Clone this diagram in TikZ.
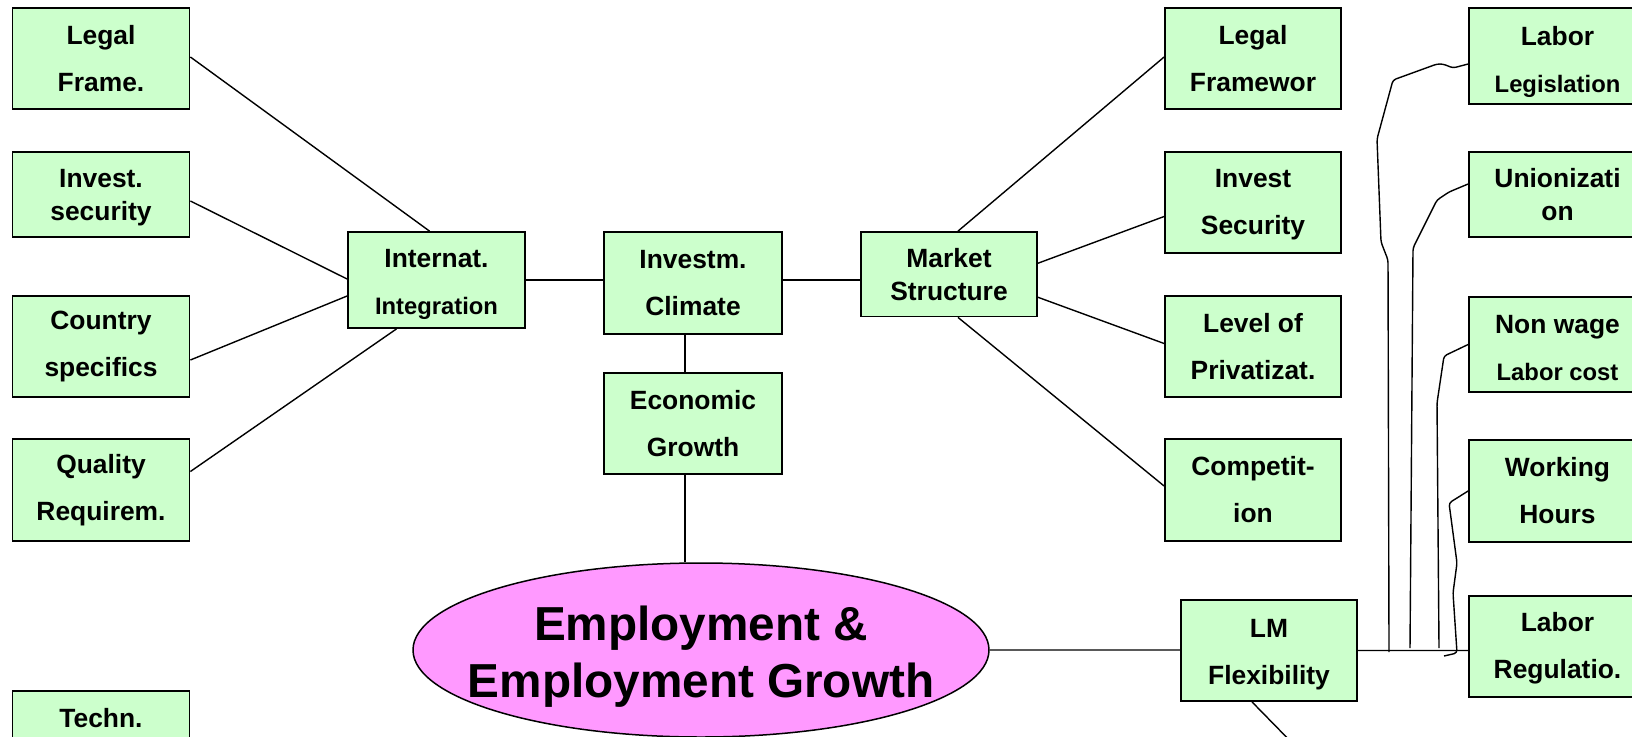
\documentclass[tikz,border=0pt]{standalone}
\usepackage{fontspec}
\setmainfont{Liberation Sans}
\usetikzlibrary{positioning,shapes}
\definecolor{boxgreen}{HTML}{CCFFCC}
\definecolor{empink}{HTML}{FF99FF}
\newcommand{\smtx}[1]{{\fontsize{23.8}{46}\selectfont #1}}
\newcommand{\lowr}[1]{\rule{0pt}{#1pt}}

\begin{document}
\begin{tikzpicture}[%
        x=1pt, y=-1pt,
        every node/.style={inner sep=0pt, align=center, font=\bfseries\fontsize{26.4}{47}\selectfont},
        box/.style={rectangle, draw, line width=1.8pt, fill=boxgreen, minimum width=177, minimum height=101},
        tight/.style={font=\bfseries\fontsize{26.4}{33}\selectfont},
        link/.style={line width=1.4pt},
        node distance=37pt
      ]
      \useasboundingbox (0,0) rectangle (1632,736);
      \clip (0,0) rectangle (1632,736);

      \node [box] (lframe) at (101,58.5) {Legal\\Frame.};
      \node [box, tight, minimum height=85] (isec) at (101,194.5) {\lowr{25}Invest.\\security};
      \node [box] (cspec) at (101,346.5) {Country\\specifics};
      \node [box, minimum height=102] (qual) at (101,490) {Quality\\Requirem.};
      \node [box] (techn) at (101,741.5) {Techn.\\\mbox{}};

      \node [box, minimum height=96] (intl) at (436.5,280) {\lowr{27}Internat.\\\smtx{Integration}};
      \node [box, minimum width=178, minimum height=102] (inv) at (693,283) {Investm.\\Climate};
      \node [box, minimum width=178, below=of inv] (econ) {Economic\\Growth};
      \node [box, tight, minimum width=176, minimum height=84.5] (mstr) at (949,274.25) {Market\\Structure};

      \node [box, minimum width=176] (lfw) at (1253,58.5) {Legal\\Framewor};
      \node [box, minimum width=176] (isec2) at (1253,202.5) {\lowr{23}Invest\\Security};
      \node [box, minimum width=176] (priv) at (1253,346.5) {Level of\\Privatizat.};
      \node [box, minimum width=176, minimum height=102] (comp) at (1253,490) {Competit-\\ion};

      \node [ellipse, draw, line width=1.5pt, fill=empink, minimum width=576, minimum height=174,
             inner xsep=-30pt, font=\bfseries\fontsize{47.7}{57}\selectfont] (emp) at (701,650)
             {\lowr{48}Employment \&\\Employment Growth};
      \node [box, minimum width=176] (lm) at (1269,650.5) {\lowr{27}LM\\Flexibility};

      \node [box, minimum height=96] (llegis) at (1557.5,56) {\lowr{31}Labor\\\smtx{Legislation}};
      \node [box, tight, minimum height=85] (union) at (1557.5,194.5) {Unionizati\\on};
      \node [box, minimum height=95] (nonw) at (1557.5,344.5) {\lowr{25}Non wage\\\smtx{Labor cost}};
      \node [box, minimum height=102] (work) at (1557.5,491) {Working\\Hours};
      \node [box] (lreg) at (1557.5,646.5) {\lowr{23}Labor\\Regulatio.};

      \draw [link] ([yshift=1.5]lframe.east) -- ([xshift=-7]intl.north)
        ([yshift=-6.5]isec.east) -- ([yshift=1]intl.west)
        ([yshift=-13.5]cspec.east) -- ([yshift=-16]intl.west)
        ([yshift=18.5]qual.east) -- ([xshift=-40]intl.south);
      \draw [link] (intl.east) -- (intl.east -| inv.west)
        ([yshift=3]inv.east) -- ([yshift=3]inv.east -| mstr.west)
        ([xshift=-8]inv.south) -- ([xshift=-8]econ.north)
        ([xshift=-8]econ.south) -- ([xshift=-8]econ.south |- emp.north);
      \draw [link] ([xshift=9]mstr.north) -- ([yshift=1.5]lfw.west)
        ([yshift=11]mstr.east) -- ([yshift=-14]isec2.west)
        ([yshift=-23]mstr.east) -- ([yshift=3]priv.west)
        ([xshift=9]mstr.south) -- ([yshift=4]comp.west);
      \draw [link] (emp.east) -- (emp.east -| lm.west)
        (lm.east) -- (lm.east -| lreg.west)
        ([xshift=-17]lm.south) -- ++(45,46);

      \coordinate (f1) at (1389,652);
      \coordinate (f2) at (1410,648);
      \coordinate (f3) at (1439,648);
      \coordinate (f4) at (1444,656);
      \draw [link, rounded corners=3pt] ([yshift=-8]llegis.west) -- (1453,68) -- (1443,64) -- (1437,64)
        -- (1393,80) -- (1377,139) -- (1381,242) -- (1388,260) -- (f1);
      \draw [link, rounded corners=3pt] ([yshift=10.5]union.west) -- (1449,192) -- (1437,200)
        -- (1413,248) -- (f2);
      \draw [link, rounded corners=3pt] (nonw.west) -- (1444,356) -- (1437,403) -- (f3);
      \draw [link, rounded corners=3pt] (work.west) -- (1449,503) -- (1457,563) -- (1453,593)
        -- (1457,653) -- (f4);
    \end{tikzpicture}
\end{document}
